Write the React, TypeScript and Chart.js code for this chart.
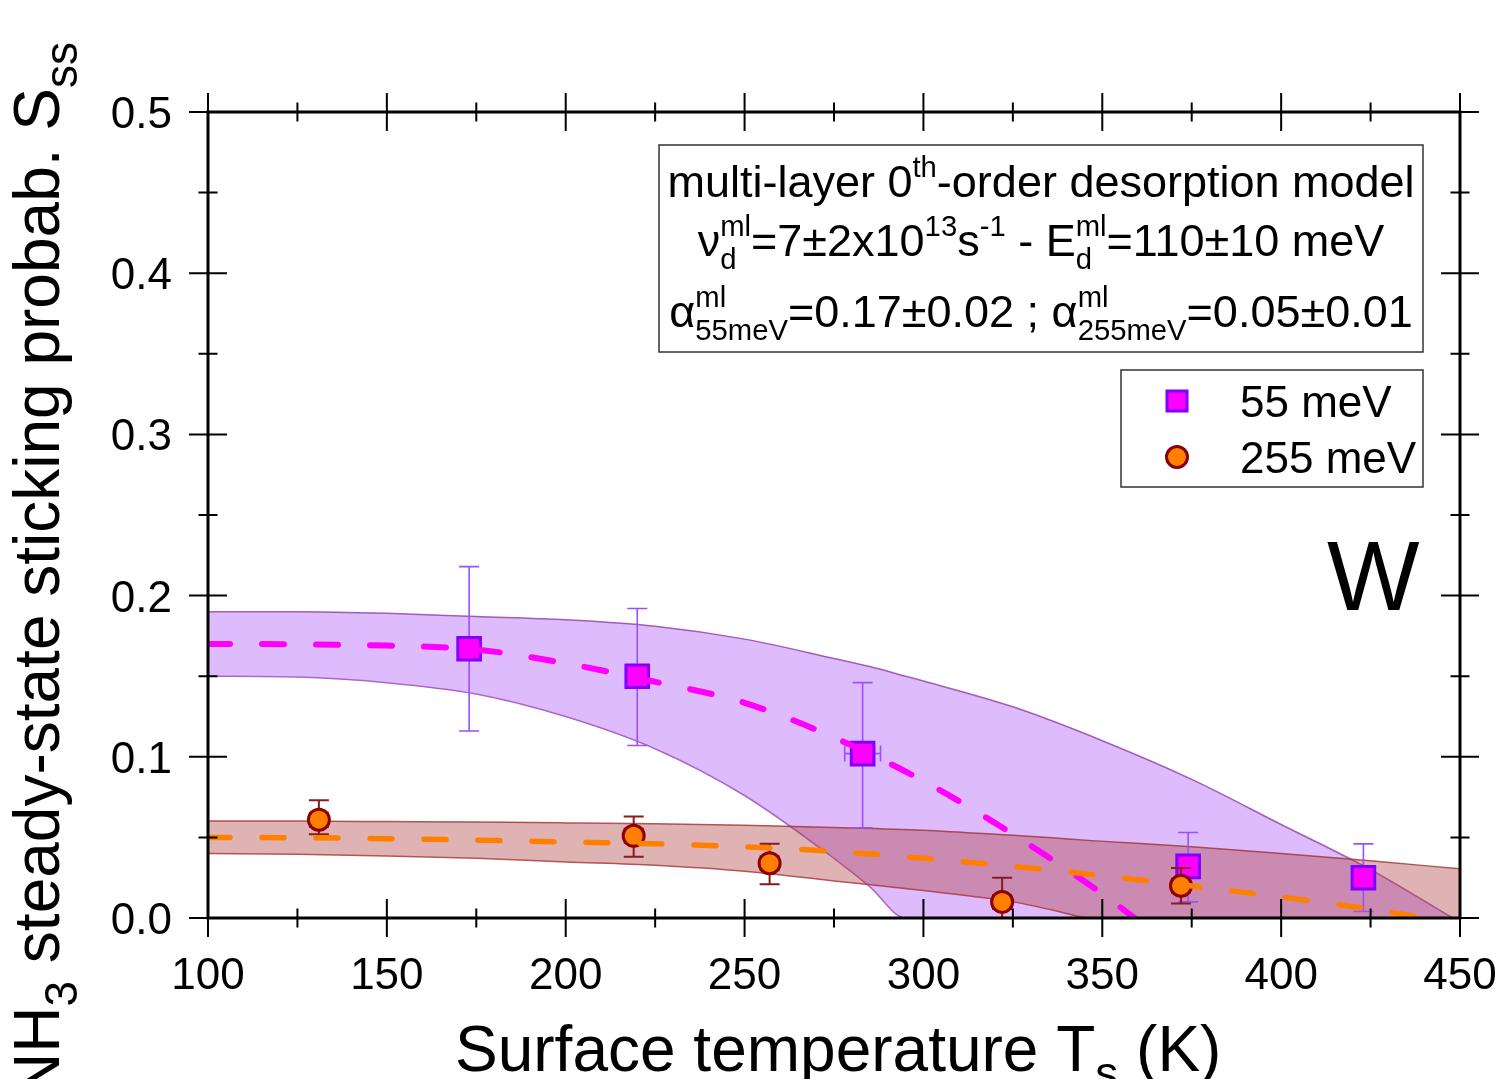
import React, { useEffect, useRef } from 'react';
import { Chart, registerables } from 'chart.js';

Chart.register(...registerables);

// ---------- data ----------
const tempMajorTicks = [100, 150, 200, 250, 300, 350, 400, 450];
const tempMinorTicks = [125, 175, 225, 275, 325, 375, 425];
const stickMajorTicks = [0, 0.1, 0.2, 0.3, 0.4, 0.5];
const stickMinorTicks = [0.05, 0.15, 0.25, 0.35, 0.45];
const stickTickLabels = ['0.0', '0.1', '0.2', '0.3', '0.4', '0.5'];
const tempTickLabels = ['100', '150', '200', '250', '300', '350', '400', '450'];

// 55 meV measurements
const t55 = [173, 220, 283, 374, 423];
const s55 = [0.167, 0.150, 0.102, 0.032, 0.025];
const s55ErrHigh = [0.218, 0.192, 0.146, 0.053, 0.046];
const s55ErrLow = [0.116, 0.107, 0.056, 0.010, 0.004];
const t55Err = [0, 0, 5, 2.5, 2.5];

// 255 meV measurements
const t255 = [131, 219, 257, 322, 372];
const s255 = [0.061, 0.051, 0.034, 0.010, 0.020];
const s255ErrHigh = [0.073, 0.063, 0.046, 0.025, 0.031];
const s255ErrLow = [0.052, 0.038, 0.021, 0.0, 0.009];
const t255Err = [2.5, 2.5, 2.5, 2.5, 2.5];

// model fit 55 meV (dashed) and its uncertainty band
const fit55T = [100, 125, 150, 175, 200, 225, 250, 275, 300, 325, 350, 359];
const fit55S = [0.170, 0.1698, 0.169, 0.1665, 0.158, 0.1465, 0.1335, 0.112, 0.085, 0.052, 0.015, 0];
const band55T = [100, 125, 150, 175, 200, 225, 250, 275, 285, 295, 300, 325, 350, 375, 400, 425, 448];
const band55High = [0.190, 0.190, 0.189, 0.187, 0.185, 0.181, 0.173, 0.161, 0.156, 0.150, 0.147, 0.131, 0.110, 0.086, 0.058, 0.030, 0];
const band55Low = [0.150, 0.1495, 0.146, 0.139, 0.125, 0.105, 0.076, 0.037, 0.0195, 0, 0, 0, 0, 0, 0, 0, 0];

// model fit 255 meV (dashed) and its uncertainty band
const fit255T = [100, 125, 150, 175, 200, 225, 250, 275, 300, 325, 350, 375, 400, 425, 440];
const fit255S = [0.050, 0.0498, 0.0492, 0.0483, 0.0472, 0.046, 0.0442, 0.0413, 0.037, 0.032, 0.0262, 0.0198, 0.013, 0.0055, 0];
const band255T = [100, 125, 150, 175, 200, 225, 250, 275, 300, 325, 336, 347, 375, 400, 425, 450];
const band255High = [0.0602, 0.0601, 0.0598, 0.0595, 0.059, 0.0584, 0.0575, 0.0562, 0.0545, 0.0513, 0.0498, 0.048, 0.0442, 0.040, 0.0355, 0.0305];
const band255Low = [0.040, 0.0395, 0.0385, 0.037, 0.0348, 0.0327, 0.029, 0.023, 0.017, 0.010, 0.005, 0, 0, 0, 0, 0];

const legendLabels = ['55 meV', '255 meV'];

// ---------- style ----------
const FAM = '"Liberation Sans", Arial, Helvetica, sans-serif';
const fnt = (s: number) => `${s}px ${FAM}`;
const SQ_FILL = '#ff00ff';
const SQ_BORDER = '#8000ff';
const SQ_ERR = '#9a50ff';
const CI_FILL = '#ff8000';
const CI_BORDER = '#8b0000';
const CI_ERR = '#8b1a1a';

type Seg = { t?: string; pos?: 'sup' | 'sub'; sup?: string; sub?: string };

const SUP_OFF = -0.45;
const SUB_OFF = 0.28;

function segWidth(ctx: CanvasRenderingContext2D, s: Seg, F: number, small: number) {
  if (s.sup !== undefined || s.sub !== undefined) {
    ctx.font = fnt(F * small);
    return Math.max(s.sup ? ctx.measureText(s.sup).width : 0, s.sub ? ctx.measureText(s.sub).width : 0);
  }
  ctx.font = fnt(s.pos ? F * small : F);
  return ctx.measureText(s.t || '').width;
}

function richWidth(ctx: CanvasRenderingContext2D, segs: Seg[], F: number, small = 0.65) {
  return segs.reduce((a, s) => a + segWidth(ctx, s, F, small), 0);
}

function drawRich(ctx: CanvasRenderingContext2D, segs: Seg[], x: number, y: number, F: number, small = 0.65) {
  ctx.textAlign = 'left';
  ctx.textBaseline = 'alphabetic';
  let cx = x;
  for (const s of segs) {
    const w = segWidth(ctx, s, F, small);
    if (s.sup !== undefined || s.sub !== undefined) {
      ctx.font = fnt(F * small);
      if (s.sup) ctx.fillText(s.sup, cx, y + SUP_OFF * F);
      if (s.sub) ctx.fillText(s.sub, cx, y + SUB_OFF * F);
    } else if (s.pos) {
      ctx.font = fnt(F * small);
      ctx.fillText(s.t || '', cx, y + (s.pos === 'sup' ? SUP_OFF : SUB_OFF) * F);
    } else {
      ctx.font = fnt(F);
      ctx.fillText(s.t || '', cx, y);
    }
    cx += w;
  }
}

function drawSquare(ctx: CanvasRenderingContext2D, x: number, y: number, side: number) {
  ctx.fillStyle = SQ_FILL;
  ctx.strokeStyle = SQ_BORDER;
  ctx.lineWidth = 3;
  ctx.fillRect(x - side / 2, y - side / 2, side, side);
  ctx.strokeRect(x - side / 2, y - side / 2, side, side);
}
function drawCircle(ctx: CanvasRenderingContext2D, x: number, y: number, r: number) {
  ctx.beginPath();
  ctx.arc(x, y, r, 0, Math.PI * 2);
  ctx.fillStyle = CI_FILL;
  ctx.fill();
  ctx.strokeStyle = CI_BORDER;
  ctx.lineWidth = 3;
  ctx.stroke();
}

const errorBarPlugin = {
  id: 'errorBars',
  beforeDatasetDraw(chart: any, args: any) {
    const idx = args.index;
    let T: number[], S: number[], hi: number[], lo: number[], te: number[], color: string;
    if (idx === 4) { T = t55; S = s55; hi = s55ErrHigh; lo = s55ErrLow; te = t55Err; color = SQ_ERR; }
    else if (idx === 5) { T = t255; S = s255; hi = s255ErrHigh; lo = s255ErrLow; te = t255Err; color = CI_ERR; }
    else return;
    const ctx = chart.ctx as CanvasRenderingContext2D;
    const xs = chart.scales.x, ys = chart.scales.y;
    ctx.save();
    ctx.strokeStyle = color;
    ctx.lineWidth = idx === 4 ? 1.6 : 2;
    const cap = 10;
    for (let i = 0; i < T.length; i++) {
      const px = xs.getPixelForValue(T[i]);
      const py = ys.getPixelForValue(S[i]);
      const pt = ys.getPixelForValue(hi[i]);
      const pb = ys.getPixelForValue(lo[i]);
      ctx.beginPath();
      ctx.moveTo(px, pt); ctx.lineTo(px, pb);
      ctx.moveTo(px - cap, pt); ctx.lineTo(px + cap, pt);
      ctx.moveTo(px - cap, pb); ctx.lineTo(px + cap, pb);
      if (te[i] > 0) {
        const pl = xs.getPixelForValue(T[i] - te[i]);
        const pr = xs.getPixelForValue(T[i] + te[i]);
        ctx.moveTo(pl, py); ctx.lineTo(pr, py);
        ctx.moveTo(pl, py - 8); ctx.lineTo(pl, py + 8);
        ctx.moveTo(pr, py - 8); ctx.lineTo(pr, py + 8);
      }
      ctx.stroke();
    }
    ctx.restore();
  },
};

const decorPlugin = {
  id: 'decor',
  afterDraw(chart: any) {
    const ctx = chart.ctx as CanvasRenderingContext2D;
    const xs = chart.scales.x, ys = chart.scales.y;
    const { left, right, top, bottom } = chart.chartArea;
    ctx.save();
    // frame
    ctx.strokeStyle = '#000';
    ctx.lineWidth = 3;
    ctx.strokeRect(left, top, right - left, bottom - top);
    // ticks
    ctx.lineWidth = 2;
    ctx.beginPath();
    const tick = (vals: number[], len: number) => {
      for (const v of vals) {
        const px = xs.getPixelForValue(v);
        ctx.moveTo(px, bottom - len); ctx.lineTo(px, bottom + len);
        ctx.moveTo(px, top - len); ctx.lineTo(px, top + len);
      }
    };
    const ytick = (vals: number[], len: number) => {
      for (const v of vals) {
        const py = ys.getPixelForValue(v);
        ctx.moveTo(left - len, py); ctx.lineTo(left + len, py);
        ctx.moveTo(right - len, py); ctx.lineTo(right + len, py);
      }
    };
    tick(tempMajorTicks, 19);
    tick(tempMinorTicks, 9.5);
    ytick(stickMajorTicks, 19);
    ytick(stickMinorTicks, 9.5);
    ctx.stroke();

    // tick labels
    ctx.fillStyle = '#000';
    ctx.font = fnt(44);
    ctx.textBaseline = 'alphabetic';
    ctx.textAlign = 'center';
    tempMajorTicks.forEach((v, i) => ctx.fillText(tempTickLabels[i], xs.getPixelForValue(v), 989));
    ctx.textAlign = 'right';
    stickMajorTicks.forEach((v, i) => ctx.fillText(stickTickLabels[i], 172, ys.getPixelForValue(v) + 16));

    // x title
    ctx.fillStyle = '#000';
    drawRich(ctx, [{ t: 'Surface temperature T' }, { t: 's', pos: 'sub' }, { t: ' (K)' }], 455, 1071, 64, 0.72);

    // y title (rotated)
    const ySegsMain: Seg[] = [{ t: 'NH' }, { t: '3', pos: 'sub' }, { t: ' steady-state sticking probab. S' }];
    const ySegs: Seg[] = [...ySegsMain, { t: 'ss', pos: 'sub' }];
    const w1 = richWidth(ctx, ySegsMain, 64, 0.72);
    ctx.save();
    ctx.translate(59, 88 + w1);
    ctx.rotate(-Math.PI / 2);
    drawRich(ctx, ySegs, 0, 0, 64, 0.72);
    ctx.restore();

    // annotation box
    ctx.fillStyle = '#fff';
    ctx.fillRect(659, 145, 764, 207);
    ctx.strokeStyle = '#333';
    ctx.lineWidth = 1.5;
    ctx.strokeRect(659, 145, 764, 207);
    ctx.fillStyle = '#000';
    const F = 45;
    const cx = 1041;
    const line1: Seg[] = [{ t: 'multi-layer 0' }, { t: 'th', pos: 'sup' }, { t: '-order desorption model' }];
    const line2: Seg[] = [{ t: 'ν' }, { sup: 'ml', sub: 'd' }, { t: '=7±2x10' }, { t: '13', pos: 'sup' }, { t: 's' }, { t: '-1', pos: 'sup' }, { t: ' - E' }, { sup: 'ml', sub: 'd' }, { t: '=110±10 meV' }];
    const line3: Seg[] = [{ t: 'α' }, { sup: 'ml', sub: '55meV' }, { t: '=0.17±0.02 ; α' }, { sup: 'ml', sub: '255meV' }, { t: '=0.05±0.01' }];
    drawRich(ctx, line1, cx - richWidth(ctx, line1, F) / 2, 197, F);
    drawRich(ctx, line2, cx - richWidth(ctx, line2, F) / 2, 256, F);
    drawRich(ctx, line3, cx - richWidth(ctx, line3, F) / 2, 327, F);

    // legend box
    ctx.fillStyle = '#fff';
    ctx.fillRect(1121, 370, 302, 117);
    ctx.strokeStyle = '#333';
    ctx.lineWidth = 1.5;
    ctx.strokeRect(1121, 370, 302, 117);
    drawSquare(ctx, 1177, 401, 20);
    drawCircle(ctx, 1177, 457, 10.5);
    ctx.fillStyle = '#000';
    ctx.font = fnt(44);
    ctx.textAlign = 'left';
    ctx.textBaseline = 'alphabetic';
    ctx.fillText(legendLabels[0], 1240, 417);
    ctx.fillText(legendLabels[1], 1240, 473);

    // W label
    ctx.font = fnt(98);
    ctx.fillText('W', 1327, 610);
    ctx.restore();
  },
};

export default function App() {
  const ref = useRef<HTMLCanvasElement | null>(null);
  useEffect(() => {
    if (!ref.current) return;
    const pts = (xs: number[], ys: number[]) => xs.map((x, i) => ({ x, y: ys[i] }));
    const smooth = { cubicInterpolationMode: 'monotone' as const, pointRadius: 0 };
    const chart = new Chart(ref.current, {
      type: 'line',
      data: {
        datasets: [
          {
            label: 'band55High', data: pts(band55T, band55High), fill: '+1',
            backgroundColor: 'rgba(190,120,250,0.5)', borderColor: 'rgba(150,70,170,0.85)', borderWidth: 1.5,
            ...smooth, order: 20,
          },
          {
            label: 'band55Low', data: pts(band55T, band55Low), fill: false,
            borderColor: 'rgba(150,70,170,0.85)', borderWidth: 1.5, ...smooth, order: 20,
          },
          {
            label: 'band255High', data: pts(band255T, band255High), fill: '+1',
            backgroundColor: 'rgba(175,65,65,0.4)', borderColor: 'rgba(160,50,50,0.8)', borderWidth: 1.5,
            ...smooth, order: 15,
          },
          {
            label: 'band255Low', data: pts(band255T, band255Low), fill: false,
            borderColor: 'rgba(160,50,50,0.8)', borderWidth: 1.5, ...smooth, order: 15,
          },
          {
            label: legendLabels[0], data: pts(t55, s55), showLine: false,
            pointStyle: 'rect', pointRadius: 16, pointBackgroundColor: SQ_FILL, pointBorderColor: SQ_BORDER,
            pointBorderWidth: 3, order: 8,
          },
          {
            label: legendLabels[1], data: pts(t255, s255), showLine: false,
            pointStyle: 'circle', pointRadius: 10.5, pointBackgroundColor: CI_FILL, pointBorderColor: CI_BORDER,
            pointBorderWidth: 3, order: 7,
          },
          {
            label: 'fit55', data: pts(fit55T, fit55S), fill: false, borderColor: '#ff00ff', borderWidth: 6,
            borderDash: [22, 32], borderCapStyle: 'round', ...smooth, order: 2,
          },
          {
            label: 'fit255', data: pts(fit255T, fit255S), fill: false, borderColor: '#ff8000', borderWidth: 5.5,
            borderDash: [22, 32], borderCapStyle: 'round', ...smooth, order: 1,
          },
        ],
      },
      options: {
        animation: false,
        responsive: false,
        devicePixelRatio: 1,
        layout: { padding: { top: 112, right: 43, left: 0, bottom: 0 } },
        plugins: { legend: { display: false }, tooltip: { enabled: false } },
        events: [],
        scales: {
          x: {
            type: 'linear', min: 100, max: 450,
            ticks: { display: false }, grid: { display: false }, border: { display: false },
            afterFit: (s: any) => { s.height = 161; },
          },
          y: {
            type: 'linear', min: 0, max: 0.5,
            ticks: { display: false }, grid: { display: false }, border: { display: false },
            afterFit: (s: any) => { s.width = 208; },
          },
        },
      } as any,
      plugins: [errorBarPlugin, decorPlugin],
    });
    return () => chart.destroy();
  }, []);
  return (
    <div style={{ position: 'fixed', left: 0, top: 0, width: 1503, height: 1079, background: '#fff' }}>
      <canvas ref={ref} width={1503} height={1079} style={{ display: 'block' }} />
    </div>
  );
}
